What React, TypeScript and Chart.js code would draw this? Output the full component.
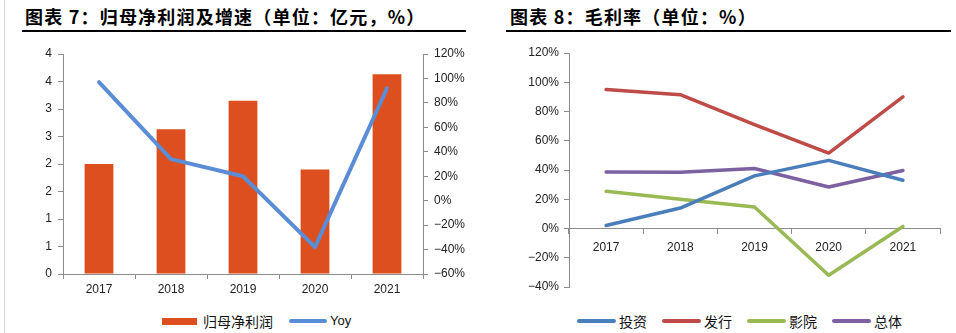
import React, { useEffect, useRef } from "react";
import { Chart, registerables } from "chart.js";

Chart.register(...registerables);

// ---------- data ----------
const years = ["2017", "2018", "2019", "2020", "2021"];
const netProfit = [2.0, 2.63, 3.15, 1.9, 3.63];
const yoyGrowth = [97, 34, 20, -38, 92];
const leftAxisLabels = ["0", "1", "1", "2", "2", "3", "3", "4", "4"];

const investMargin = [2, 14, 36, 46.6, 33];
const distribMargin = [95, 91.5, 71, 51.6, 90];
const cinemaMargin = [25.4, 20, 14.7, -32, 1.4];
const totalMargin = [38.6, 38.4, 41, 28.4, 39.7];

// ---------- styles ----------
const BAR_COLOR = "#DD4F1F";
const YOY_COLOR = "#5A8DD6";
const C_INVEST = "#4A7EBB";
const C_DISTRIB = "#BE4B48";
const C_CINEMA = "#98B954";
const C_TOTAL = "#7D60A0";
const AXIS = "#8C8C8C";
const TICK_TEXT = "#222222";
const TICK_FONT = { family: "'Liberation Sans', Arial, sans-serif", size: 12 };
const CJK = "'Noto Sans CJK SC', sans-serif";

const pct = (v: number) => (v < 0 ? "\u2212" + Math.abs(v) : String(v)) + "%";

const fixed = (w?: number, h?: number) => (s: any) => {
  if (w !== undefined) s.width = w;
  if (h !== undefined) s.height = h;
  s.paddingTop = 0;
  s.paddingBottom = 0;
  s.paddingLeft = 0;
  s.paddingRight = 0;
};

function LeftChart() {
  const ref = useRef<HTMLCanvasElement>(null);
  useEffect(() => {
    const chart = new Chart(ref.current!, {
      type: "bar",
      data: {
        labels: years,
        datasets: [
          {
            type: "line",
            label: "Yoy",
            data: yoyGrowth,
            yAxisID: "y1",
            borderColor: YOY_COLOR,
            backgroundColor: YOY_COLOR,
            borderWidth: 4,
            pointRadius: 0,
            tension: 0,
            borderJoinStyle: "round",
            borderCapStyle: "round",
            order: 0,
          } as any,
          {
            type: "bar",
            label: "归母净利润",
            data: netProfit,
            yAxisID: "y",
            backgroundColor: BAR_COLOR,
            barPercentage: 0.4,
            categoryPercentage: 1,
            order: 1,
          },
        ],
      },
      options: {
        animation: false,
        responsive: false,
        maintainAspectRatio: false,
        layout: { padding: { top: 14, bottom: 0, left: 0, right: 0 } },
        plugins: { legend: { display: false }, tooltip: { enabled: false } },
        scales: {
          x: {
            offset: true,
            grid: { offset: true, drawOnChartArea: false, tickLength: 5, color: AXIS },
            border: { color: AXIS },
            ticks: { font: TICK_FONT, color: TICK_TEXT, padding: 3, maxRotation: 0 },
            afterFit: fixed(undefined, 26),
          },
          y: {
            position: "left",
            min: 0,
            max: 4,
            grid: { drawOnChartArea: false, tickLength: 5, color: AXIS },
            border: { color: AXIS },
            ticks: {
              stepSize: 0.5,
              font: TICK_FONT,
              color: TICK_TEXT,
              padding: 6,
              callback: (v: any) => leftAxisLabels[Math.round(Number(v) * 2)],
            },
            afterFit: fixed(63),
          },
          y1: {
            position: "right",
            min: -60,
            max: 120,
            grid: { drawOnChartArea: false, tickLength: 5, color: AXIS },
            border: { color: AXIS },
            ticks: {
              stepSize: 20,
              font: TICK_FONT,
              color: TICK_TEXT,
              padding: 6,
              callback: (v: any) => pct(Number(v)),
            },
            afterFit: fixed(55),
          },
        },
      } as any,
    });
    return () => chart.destroy();
  }, []);
  return (
    <canvas
      ref={ref}
      width={478}
      height={260}
      style={{ position: "absolute", left: 0, top: 40, width: 478, height: 260 }}
    />
  );
}

function RightChart() {
  const ref = useRef<HTMLCanvasElement>(null);
  useEffect(() => {
    const mk = (label: string, data: number[], color: string) => ({
      label,
      data,
      borderColor: color,
      backgroundColor: color,
      borderWidth: 3.5,
      pointRadius: 0,
      tension: 0,
      borderJoinStyle: "round",
      borderCapStyle: "round",
    });
    const chart = new Chart(ref.current!, {
      type: "line",
      data: {
        labels: years,
        datasets: [
          mk("投资", investMargin, C_INVEST),
          mk("发行", distribMargin, C_DISTRIB),
          mk("影院", cinemaMargin, C_CINEMA),
          mk("总体", totalMargin, C_TOTAL),
        ] as any,
      },
      options: {
        animation: false,
        responsive: false,
        maintainAspectRatio: false,
        layout: { padding: { top: 13, bottom: 13, left: 0, right: 16 } },
        plugins: { legend: { display: false }, tooltip: { enabled: false } },
        scales: {
          x: {
            position: { y: 0 },
            offset: true,
            grid: { offset: true, drawOnChartArea: false, tickLength: 5, color: AXIS },
            border: { color: AXIS },
            ticks: { font: TICK_FONT, color: TICK_TEXT, padding: 7, maxRotation: 0 },
            afterFit: fixed(),
          },
          y: {
            position: "left",
            min: -40,
            max: 120,
            grid: { drawOnChartArea: false, tickLength: 5, color: AXIS },
            border: { color: AXIS },
            ticks: {
              stepSize: 20,
              font: TICK_FONT,
              color: TICK_TEXT,
              padding: 5,
              callback: (v: any) => pct(Number(v)),
            },
            afterFit: fixed(91),
          },
        },
      } as any,
    });
    return () => chart.destroy();
  }, []);
  return (
    <canvas
      ref={ref}
      width={478}
      height={260}
      style={{ position: "absolute", left: 478, top: 40, width: 478, height: 260 }}
    />
  );
}

const legendText: React.CSSProperties = {
  fontFamily: CJK,
  fontSize: 14,
  color: "#111",
  lineHeight: "16px",
  whiteSpace: "nowrap",
};

function LineSwatch({ color, width }: { color: string; width: number }) {
  return (
    <span
      style={{
        display: "inline-block",
        width,
        height: 4,
        borderRadius: 2,
        background: color,
      }}
    />
  );
}

export default function App() {
  const titleStyle: React.CSSProperties = {
    position: "absolute",
    top: 7,
    fontFamily: CJK,
    fontWeight: 700,
    fontSize: 18,
    lineHeight: "18px",
    letterSpacing: "1.2px",
    color: "#000",
    whiteSpace: "nowrap",
  };
  const rightItems = [
    { label: "投资", color: C_INVEST },
    { label: "发行", color: C_DISTRIB },
    { label: "影院", color: C_CINEMA },
    { label: "总体", color: C_TOTAL },
  ];
  return (
    <div
      style={{
        position: "fixed",
        left: 0,
        top: 0,
        width: 956,
        height: 333,
        background: "#fff",
        overflow: "hidden",
      }}
    >
      <div style={{ position: "absolute", left: 4, top: 0, width: 1, height: 333, background: "#D4D4D4" }} />
      <div style={{ ...titleStyle, left: 25 }}>图表 7：归母净利润及增速（单位：亿元，%）</div>
      <div style={{ position: "absolute", left: 22, top: 30, width: 444, height: 2, background: "#000" }} />
      <div style={{ ...titleStyle, left: 510 }}>图表 8：毛利率（单位：%）</div>
      <div style={{ position: "absolute", left: 506, top: 30, width: 445, height: 2, background: "#000" }} />

      <LeftChart />
      <RightChart />

      <div style={{ position: "absolute", left: 162, top: 313, height: 16, display: "flex", alignItems: "center" }}>
        <span style={{ display: "inline-block", width: 35, height: 7, background: BAR_COLOR }} />
        <span style={{ ...legendText, marginLeft: 6 }}>归母净利润</span>
        <span style={{ marginLeft: 16, display: "inline-flex" }}>
          <LineSwatch color={YOY_COLOR} width={38} />
        </span>
        <span style={{ ...legendText, marginLeft: 3, fontFamily: "'Liberation Sans', Arial, sans-serif", fontSize: 13 }}>Yoy</span>
      </div>

      <div style={{ position: "absolute", left: 577, top: 313, height: 16, display: "flex", alignItems: "center" }}>
        {rightItems.map((it, i) => (
          <span key={it.label} style={{ display: "inline-flex", alignItems: "center", marginLeft: i === 0 ? 0 : 15 }}>
            <LineSwatch color={it.color} width={39} />
            <span style={{ ...legendText, marginLeft: 3 }}>{it.label}</span>
          </span>
        ))}
      </div>
    </div>
  );
}
